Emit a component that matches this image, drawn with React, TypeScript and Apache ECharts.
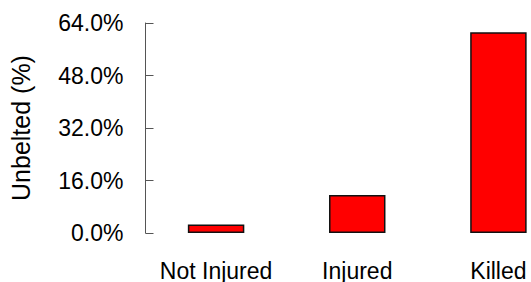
import React, { useEffect, useRef } from "react";
import * as echarts from "echarts";

const categories = ["Not Injured", "Injured", "Killed"];
const values = [2.6, 11.6, 61.2];
const yTicks = { min: 0, max: 64, interval: 16 };

export default function App() {
  const ref = useRef<HTMLDivElement>(null);
  useEffect(() => {
    if (!ref.current) return;
    const chart = echarts.init(ref.current, null, { renderer: "svg" });
    const font = "'Liberation Sans', Arial, sans-serif";
    chart.setOption({
      animation: false,
      backgroundColor: "#ffffff",
      grid: { left: 145.5, top: 23, bottom: 48.5, right: 0, containLabel: false },
      xAxis: {
        type: "category",
        data: categories,
        axisLine: { show: false },
        axisTick: { show: false },
        axisLabel: { color: "#000", fontSize: 23, fontFamily: font, margin: 26, interval: 0, hideOverlap: false },
      },
      yAxis: {
        type: "value",
        min: yTicks.min,
        max: yTicks.max,
        interval: yTicks.interval,
        name: "Unbelted (%)",
        nameLocation: "middle",
        nameGap: 112,
        nameTextStyle: { color: "#000", fontSize: 25, fontFamily: font },
        axisLine: { show: true, lineStyle: { color: "#555", width: 1 } },
        axisTick: { show: true, inside: true, length: 8, lineStyle: { color: "#555" } },
        splitLine: { show: false },
        axisLabel: {
          color: "#000",
          fontSize: 23,
          fontFamily: font,
          margin: 22,
          formatter: (v: number) => v.toFixed(1) + "%",
        },
      },
      series: [
        {
          type: "bar",
          data: values,
          barWidth: "40%",
          itemStyle: { color: "#ff0000", borderColor: "#111", borderWidth: 1.5 },
        },
      ],
    });
    return () => chart.dispose();
  }, []);
  return (
    <div style={{ position: "fixed", left: 0, top: 0, width: 531, height: 282, overflow: "hidden" }}>
      <div ref={ref} style={{ width: 569, height: 282 }} />
    </div>
  );
}
